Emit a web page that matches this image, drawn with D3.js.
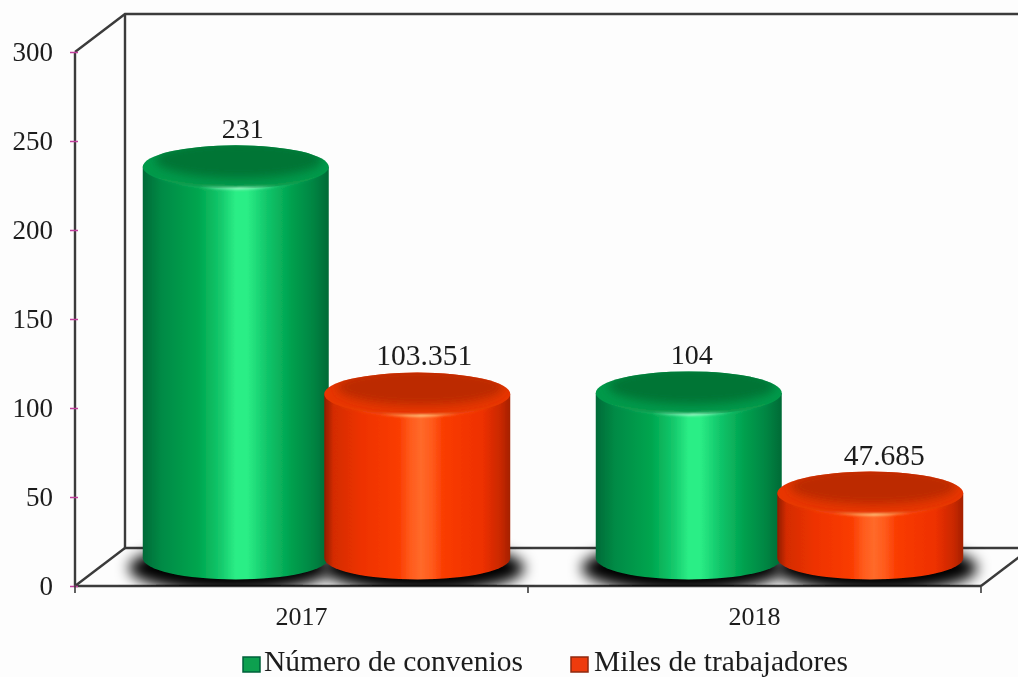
<!DOCTYPE html>
<html><head><meta charset="utf-8">
<script src="https://cdn.jsdelivr.net/npm/d3@7"></script>
<style>html,body{margin:0;padding:0;background:#fdfdfd;overflow:hidden}svg{display:block}text{font-family:"Liberation Serif",serif;fill:#1c1c1c}</style>
</head><body><svg id="c" width="1018" height="677"></svg>
<script>
const categories = ["2017","2018"];
const seriesNames = ["Número de convenios","Miles de trabajadores"];
const convenios = [231,104];
const trabajadores = [103.351,47.685];
const valueLabels = [["231","104"],["103.351","47.685"]];
const yTicks = [0,50,100,150,200,250,300];
const gradients = [
 {stops:[[0,"#006a38"],[.1,"#008a45"],[.3,"#00a64f"],[.42,"#14c96c"],[.5,"#2cee86"],[.56,"#2cee86"],[.66,"#12c86c"],[.8,"#00a04e"],[.92,"#008442"],[1,"#006a36"]],edge:"#00603a",mark:"#0aa050",cap:"#04994a",capDark:"#007536",rim:"#a0f8c8"},
 {stops:[[0,"#8f1c00"],[.05,"#d42c00"],[.2,"#ee3200"],[.4,"#fa3c00"],[.46,"#ff5a1c"],[.52,"#ff6a2a"],[.58,"#ff5a1c"],[.64,"#fa3c00"],[.85,"#ee3000"],[.95,"#c82800"],[1,"#a42000"]],edge:"#8f2a10",mark:"#ee3a10",cap:"#e83600",capDark:"#bc2c00",rim:"#ffc880"}
];

const svg = d3.select("#c");
const defs = svg.append("defs");
const y = d3.scaleLinear().domain([0,300]).range([586,52]);
const x0 = d3.scaleBand().domain(categories).range([75,981]);
const x1 = d3.scaleBand().domain(d3.range(2)).range([0,x0.bandwidth()]).paddingOuter(0.248);
const depth = {dx:50,dy:38};
const bar = {w:186,ry:21.5,xo:25,yo:8,base:558};
const labelShift = [[7,3],[7,14]];

const blur = (id,s)=>defs.append("filter").attr("id",id).attr("x","-30%").attr("y","-60%").attr("width","160%").attr("height","220%")
  .append("feGaussianBlur").attr("stdDeviation",s);
blur("soft",0.55); blur("shadow",7); blur("glow",1.2); blur("bevel",5);
defs.append("clipPath").attr("id","floorClip").append("rect").attr("x",75).attr("y",500).attr("width",960).attr("height",86);

gradients.forEach((g,i)=>{
  const b=defs.append("linearGradient").attr("id","body"+i);
  g.stops.forEach(s=>b.append("stop").attr("offset",s[0]).attr("stop-color",s[1]));
  const r=defs.append("linearGradient").attr("id","rim"+i);
  [[0,0],[.3,.1],[.52,1],[.72,.1],[1,0]].forEach(s=>r.append("stop").attr("offset",s[0]).attr("stop-color",g.rim).attr("stop-opacity",s[1]));
});

const root = svg.append("g").attr("filter","url(#soft)");
const [yB,yT]=y.range(), xL=75, xR=981;
const line=(p,w=2.4,c="#3a3a3a")=>root.append("path").attr("d",d3.line()(p)).attr("fill","none").attr("stroke",c).attr("stroke-width",w);

// walls and floor
line([[xL,yT],[xL,yB],[xR,yB]]);
line([[xL,yT],[xL+depth.dx,yT-depth.dy],[1018,yT-depth.dy]]);
line([[xL+depth.dx,yT-depth.dy],[xL+depth.dx,yB-depth.dy],[1018,yB-depth.dy]]);
line([[xL,yB],[xL+depth.dx,yB-depth.dy]]);
line([[xR,yB],[xR+depth.dx,yB-depth.dy]]);

// y ticks
const yAxis=d3.axisLeft(y).tickValues(yTicks).tickSize(0).tickPadding(0);
const ga=root.append("g").attr("transform",`translate(${xL},0)`).call(yAxis);
ga.select(".domain").remove();
ga.selectAll(".tick").append("line").attr("x1",-5).attr("x2",3).attr("stroke","#c0409c").attr("stroke-width",1.5);
ga.selectAll(".tick text").attr("x",-22).attr("dy","0.32em").attr("font-size",27).style("font-family",'"Liberation Serif",serif').attr("fill","#1c1c1c");

// x ticks
const tickX=[xL,xL+x0.step(),xR];
tickX.forEach(t=>line([[t,yB],[t,yB+7]],1.6));
const gx=root.append("g").attr("transform",`translate(0,${yB})`).call(d3.axisBottom(x0).tickSize(0).tickPadding(0));
gx.select(".domain").remove();
gx.selectAll(".tick text").attr("y",31).attr("dy","0.32em").attr("font-size",26).style("font-family",'"Liberation Serif",serif').attr("fill","#1c1c1c");

// bars
const series=[convenios,trabajadores];
const bars=series.flatMap((vals,s)=>vals.map((v,c)=>({s,c,v,label:valueLabels[s][c],
  cx:x0(categories[c])+x1(s)+x1.bandwidth()/2+bar.xo, top:y(v)-bar.yo})));

const sh=root.append("g").attr("clip-path","url(#floorClip)");
bars.forEach(d=>sh.append("ellipse").attr("cx",d.cx+(d.s?6:-6)).attr("cy",bar.base+10).attr("rx",bar.w/2+8).attr("ry",bar.ry+3).attr("fill","#000").attr("filter","url(#shadow)"));

bars.sort((a,b)=>a.c-b.c||a.s-b.s).forEach((d,i)=>{
  const rx=bar.w/2,L=d.cx-rx,R=d.cx+rx,G=gradients[d.s];
  defs.append("clipPath").attr("id","cap"+i).append("ellipse").attr("cx",d.cx).attr("cy",d.top).attr("rx",rx).attr("ry",bar.ry);
  const g=root.append("g");
  g.append("path").attr("fill",`url(#body${d.s})`)
   .attr("d",`M${L},${d.top}L${L},${bar.base}A${rx},${bar.ry} 0 0 0 ${R},${bar.base}L${R},${d.top}Z`);
  g.append("ellipse").attr("cx",d.cx).attr("cy",d.top).attr("rx",rx).attr("ry",bar.ry).attr("fill",G.cap);
  g.append("g").attr("clip-path",`url(#cap${i})`).append("ellipse").attr("cx",d.cx+3).attr("cy",d.top-7).attr("rx",rx*.9).attr("ry",bar.ry*.85).attr("fill",G.capDark).attr("filter","url(#bevel)");
  g.append("path").attr("fill","none").attr("stroke",`url(#rim${d.s})`).attr("stroke-width",2.5).attr("filter","url(#glow)")
   .attr("d",`M${L},${d.top}A${rx},${bar.ry} 0 0 0 ${R},${d.top}`);
  root.append("text").attr("x",d.cx+labelShift[d.s][d.c]).attr("y",d.top-38).attr("dy","0.32em").attr("text-anchor","middle").attr("font-size",d.s?29.5:28).text(d.label);
});

// legend
const legendX=[243,571];
const legendTextX=[264,594];
seriesNames.forEach((n,i)=>{
  root.append("rect").attr("x",legendX[i]).attr("y",657).attr("width",17).attr("height",15).attr("fill",gradients[i].mark).attr("stroke",gradients[i].edge).attr("stroke-width",1.5);
  root.append("text").attr("x",legendTextX[i]).attr("y",670.5).attr("font-size",29.5).text(n);
});
</script></body></html>
